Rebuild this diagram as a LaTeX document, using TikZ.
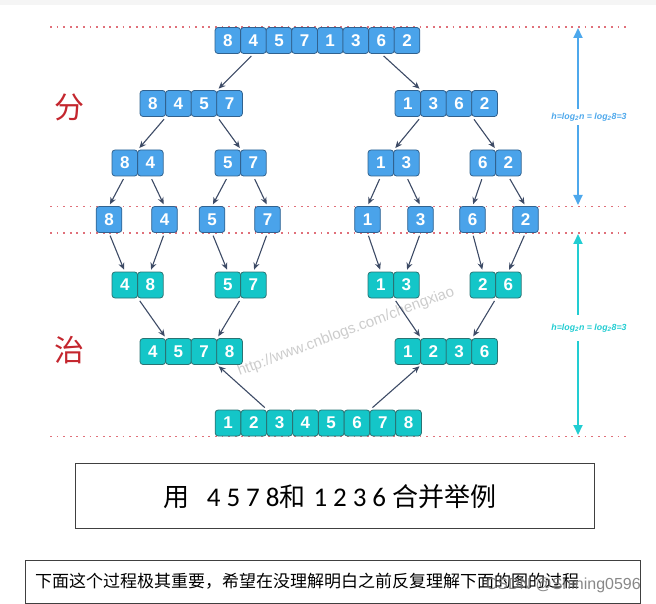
\documentclass[tikz,border=0pt]{standalone}
\usepackage{fontspec}
\usetikzlibrary{arrows.meta,calc}
\newfontfamily\cjk{Noto Sans CJK SC}
\newfontfamily\numf{Liberation Sans}
\newfontfamily\calnum[LetterSpace=22]{Carlito}
\definecolor{cellblue}{HTML}{4AA3EA}
\definecolor{bordblue}{HTML}{31628F}
\definecolor{cellteal}{HTML}{14C6C8}
\definecolor{bordteal}{HTML}{2A7373}
\definecolor{arrowc}{HTML}{3D4B66}
\definecolor{dotred}{HTML}{E0707A}
\definecolor{dimblue}{HTML}{4DA8EC}
\definecolor{dimteal}{HTML}{22CDD2}
\definecolor{hanred}{HTML}{C4262E}
\tikzset{
  cellb/.style={draw=bordblue, fill=cellblue, rounded corners=3pt, line width=0.8pt,
    minimum width=25.6pt, minimum height=26pt, inner sep=0pt, text=white,
    font=\numf\bfseries\fontsize{17}{17}\selectfont},
  cellt/.style={cellb, draw=bordteal, fill=cellteal},
  arr/.style={draw=arrowc, line width=1.1pt, -{Stealth[length=7pt,width=6pt]},
    shorten <=3pt, shorten >=2pt},
  dotline/.style={draw=dotred, line width=1.7pt, dash pattern=on 1.7pt off 4.9pt},
  dimb/.style={draw=dimblue, line width=2pt, {Triangle[length=10pt,width=9pt]}-{Triangle[length=10pt,width=9pt]}},
  dimt/.style={dimb, draw=dimteal},
  dimlab/.style={fill=white, inner xsep=1pt, font=\numf\bfseries\itshape\fontsize{8.8}{9}\selectfont},
  hanzi/.style={text=hanred, font=\cjk\fontsize{30}{30}\selectfont}
}
\begin{document}
\begin{tikzpicture}[x=1pt,y=-1pt]
\useasboundingbox (0,0) rectangle (656,604);
\fill[black!4] (0,0) rectangle (656,5);

% watermark
\node[rotate=20.5, text=black!20, font=\numf\fontsize{15}{15}\selectfont] (wm) at (346,332) {http://www.cnblogs.com/chengxiao};

% dotted guide lines
\foreach \k/\yy in {1/27,2/206.5,3/233,4/436.5}{
  \coordinate (dl\k) at (50,\yy);
  \coordinate (dr\k) at (628,\yy);
  \draw[dotline] (dl\k) -- (dr\k);
}

% dimension arrows
\coordinate (bt) at (578,28);
\coordinate (bb) at (578,205);
\draw[dimb] (bt) -- (bb);
\node[dimlab, text=dimblue, inner ysep=4pt] (lb) at (589,117) {h=log\textsubscript{2}n = log\textsubscript{2}8=3};
\coordinate (tt) at (578,234);
\coordinate (tb) at (578,435);
\draw[dimt] (tt) -- (tb);
\node[dimlab, text=dimteal, inner ysep=9pt] (lt) at (589,328) {h=log\textsubscript{2}n = log\textsubscript{2}8=3};

% labels
\node[hanzi] (fen) at (69,107) {分};
\node[hanzi] (zhi) at (69,350) {治};

% row 1
\foreach \d [count=\i] in {8,4,5,7,1,3,6,2}
  \node[cellb] (t\i) at ({227.8+(\i-1)*25.6},40.5) {\d};
% row 2
\foreach \d [count=\i] in {8,4,5,7}
  \node[cellb] (a\i) at ({152.8+(\i-1)*25.6},103.5) {\d};
\foreach \d [count=\i] in {1,3,6,2}
  \node[cellb] (c\i) at ({407.8+(\i-1)*25.6},103.5) {\d};
% row 3
\foreach \d [count=\i] in {8,4}
  \node[cellb] (p\i) at ({124.8+(\i-1)*25.6},163) {\d};
\foreach \d [count=\i] in {5,7}
  \node[cellb] (q\i) at ({227.8+(\i-1)*25.6},163) {\d};
\foreach \d [count=\i] in {1,3}
  \node[cellb] (r\i) at ({380.8+(\i-1)*25.6},163) {\d};
\foreach \d [count=\i] in {6,2}
  \node[cellb] (s\i) at ({482.8+(\i-1)*25.6},163) {\d};
% row 4
\foreach \d/\xx [count=\i] in {8/109,4/164.5,5/212,7/267.5,1/367.5,3/420.5,6/472.5,2/525.5}
  \node[cellb] (u\i) at (\xx,219.5) {\d};
% row 5
\foreach \d [count=\i] in {4,8}
  \node[cellt] (e\i) at ({124.8+(\i-1)*25.6},285) {\d};
\foreach \d [count=\i] in {5,7}
  \node[cellt] (f\i) at ({227.8+(\i-1)*25.6},285) {\d};
\foreach \d [count=\i] in {1,3}
  \node[cellt] (g\i) at ({380.8+(\i-1)*25.6},285) {\d};
\foreach \d [count=\i] in {2,6}
  \node[cellt] (h\i) at ({482.8+(\i-1)*25.6},285) {\d};
% row 6
\foreach \d [count=\i] in {4,5,7,8}
  \node[cellt] (m\i) at ({152.8+(\i-1)*25.6},351.5) {\d};
\foreach \d [count=\i] in {1,2,3,6}
  \node[cellt] (n\i) at ({407.8+(\i-1)*25.6},351.5) {\d};
% row 7
\foreach \d [count=\i] in {1,2,3,4,5,6,7,8}
  \node[cellt] (z\i) at ({228+(\i-1)*25.8},423) {\d};

% divide arrows
\draw[arr] (t2.south) -- (a3.north east);
\draw[arr] (t7.south) -- (c1.north east);
\draw[arr] (a1.south east) -- (p1.north east);
\draw[arr] (a3.south east) -- (q1.north east);
\draw[arr] (c1.south east) -- (r1.north east);
\draw[arr] (c3.south east) -- (s1.north east);
\draw[arr] (p1.south) -- (u1.north);
\draw[arr] (p2.south) -- (u2.north);
\draw[arr] (q1.south) -- (u3.north);
\draw[arr] (q2.south) -- (u4.north);
\draw[arr] (r1.south) -- (u5.north);
\draw[arr] (r2.south) -- (u6.north);
\draw[arr] (s1.south) -- (u7.north);
\draw[arr] (s2.south) -- (u8.north);
% merge arrows
\draw[arr] (u1.south) -- (e1.north);
\draw[arr] (u2.south) -- (e2.north);
\draw[arr] (u3.south) -- (f1.north);
\draw[arr] (u4.south) -- (f2.north);
\draw[arr] (u5.south) -- (g1.north);
\draw[arr] (u6.south) -- (g2.north);
\draw[arr] (u7.south) -- (h1.north);
\draw[arr] (u8.south) -- (h2.north);
\draw[arr] (e1.south east) -- (m1.north east);
\draw[arr] (f1.south east) -- (m3.north east);
\draw[arr] (g1.south east) -- (n1.north east);
\draw[arr] (h1.south east) -- (n3.north east);
\draw[arr] (z2.north east) -- (m3.south east);
\draw[arr] (z6.north east) -- (n1.south east);

% caption box
\node[draw=black!75, line width=0.8pt, minimum width=519pt, minimum height=65pt, inner sep=0pt] (cap) at (334.5,495.5) {};
\node[inner sep=0pt, anchor=base] (captext) at (330,506) {{\cjk\fontsize{26}{26}\selectfont 用}\hspace{17pt}{\calnum\fontsize{27}{27}\selectfont 4578}{\cjk\fontsize{26}{26}\selectfont 和}\hspace{8pt}{\calnum\fontsize{27}{27}\selectfont 1236}\hspace{6pt}{\cjk\fontsize{26}{26}\selectfont 合并举例}};

% note box
\node[draw=black!75, line width=0.8pt, minimum width=615pt, minimum height=43pt, inner sep=0pt] (note) at (332.5,581.5) {};
\node[anchor=west, inner sep=0pt, font=\cjk\fontsize{17}{17}\selectfont] (notetext) at (35,581) {下面这个过程极其重要，希望在没理解明白之前反复理解下面的图的过程};
\node[anchor=east, inner sep=0pt, text=black!55, opacity=0.85, font=\numf\fontsize{16}{16}\selectfont] (csdn) at (641,585) {CSDN @Shining0596};
\end{tikzpicture}
\end{document}
